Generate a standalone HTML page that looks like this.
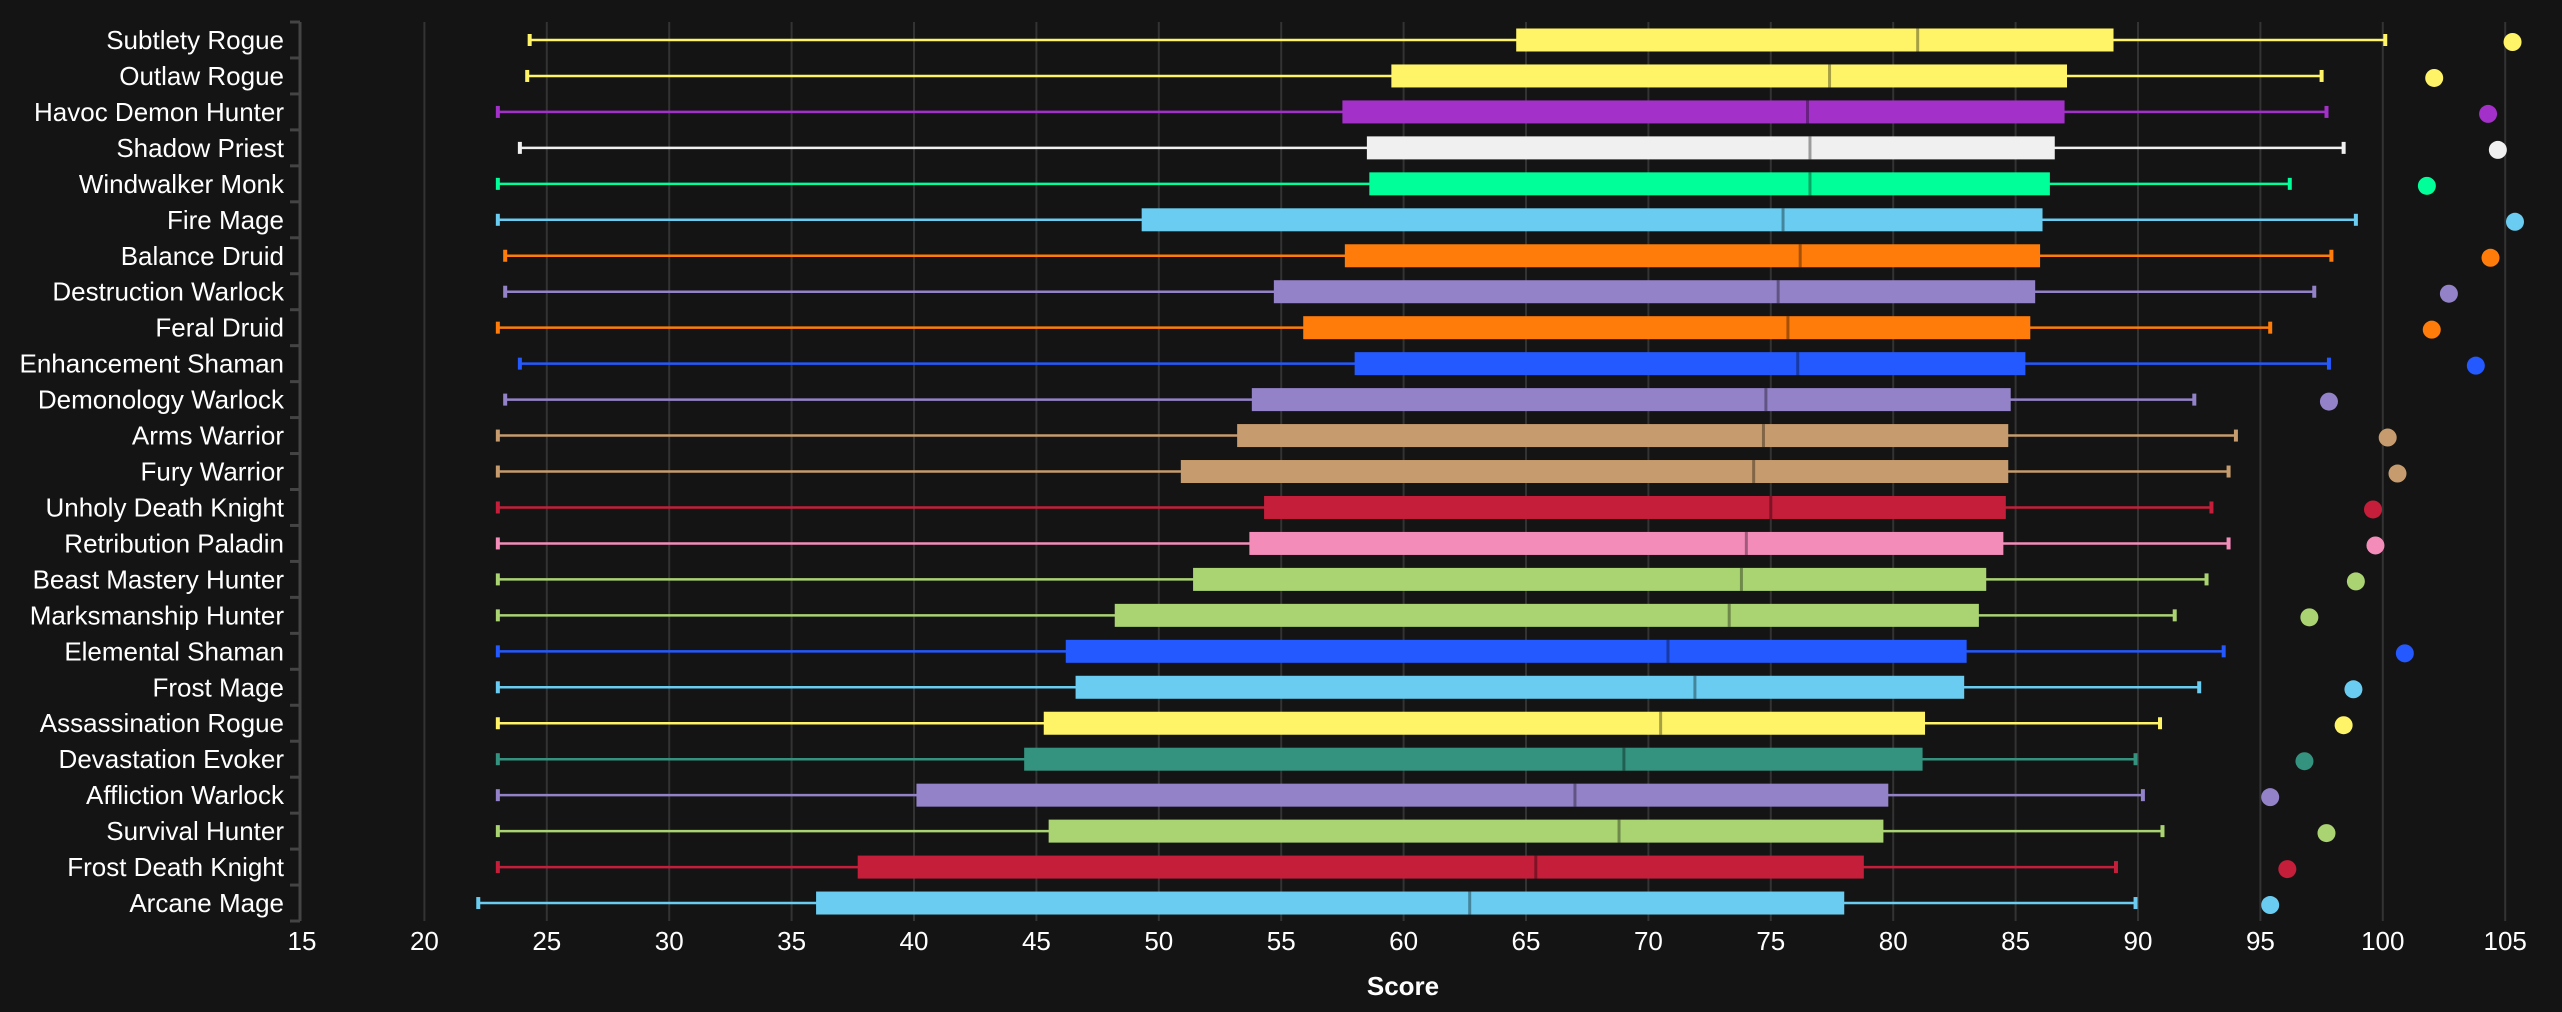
<!DOCTYPE html>
<html><head><meta charset="utf-8"><style>
html,body{margin:0;padding:0;background:#141414;}
svg{display:block;}
text{font-family:"Liberation Sans Narrow","Liberation Sans",sans-serif;fill:#fff;}
</style></head><body>
<svg id="chart" width="2562" height="1012" viewBox="0 0 2562 1012" xmlns="http://www.w3.org/2000/svg">
<rect width="2562" height="1012" fill="#141414"/>
<g id="grid"></g>
<g id="yaxis"></g>
<g id="xaxis"></g>
<g id="marks"></g>
<text x="1403" y="995" text-anchor="middle" font-size="26" font-weight="bold">Score</text>
</svg>
<script>
const categories = ["Subtlety Rogue","Outlaw Rogue","Havoc Demon Hunter","Shadow Priest","Windwalker Monk","Fire Mage","Balance Druid","Destruction Warlock","Feral Druid","Enhancement Shaman","Demonology Warlock","Arms Warrior","Fury Warrior","Unholy Death Knight","Retribution Paladin","Beast Mastery Hunter","Marksmanship Hunter","Elemental Shaman","Frost Mage","Assassination Rogue","Devastation Evoker","Affliction Warlock","Survival Hunter","Frost Death Knight","Arcane Mage"];
const mins = [24.3,24.2,23,23.9,23,23,23.3,23.3,23,23.9,23.3,23,23,23,23,23,23,23,23,23,23,23,23,23,22.2];
const q1s = [64.6,59.5,57.5,58.5,58.6,49.3,57.6,54.7,55.9,58,53.8,53.2,50.9,54.3,53.7,51.4,48.2,46.2,46.6,45.3,44.5,40.1,45.5,37.7,36];
const medians = [81,77.4,76.5,76.6,76.6,75.5,76.2,75.3,75.7,76.1,74.8,74.7,74.3,75,74,73.8,73.3,70.8,71.9,70.5,69,67,68.8,65.4,62.7];
const q3s = [89,87.1,87,86.6,86.4,86.1,86,85.8,85.6,85.4,84.8,84.7,84.7,84.6,84.5,83.8,83.5,83,82.9,81.3,81.2,79.8,79.6,78.8,78];
const maxs = [100.1,97.5,97.7,98.4,96.2,98.9,97.9,97.2,95.4,97.8,92.3,94,93.7,93,93.7,92.8,91.5,93.5,92.5,90.9,89.9,90.2,91,89.1,89.9];
const tops = [105.3,102.1,104.3,104.7,101.8,105.4,104.4,102.7,102,103.8,97.8,100.2,100.6,99.6,99.7,98.9,97,100.9,98.8,98.4,96.8,95.4,97.7,96.1,95.4];
const colors = ["#fff468","#fff468","#a330c9","#f0f0f0","#00ff98","#69ccf0","#ff7c0a","#9482c9","#ff7c0a","#2459ff","#9482c9","#c69b6d","#c69b6d","#c41e3a","#f48cba","#aad372","#aad372","#2459ff","#69ccf0","#fff468","#33937f","#9482c9","#aad372","#c41e3a","#69ccf0"];
const xTicks = [15,20,25,30,35,40,45,50,55,60,65,70,75,80,85,90,95,100,105];

const NS="http://www.w3.org/2000/svg";
const X0=302, PXU=24.48, Y0=40, ROW=35.96;
const x = v => X0 + (v-15)*PXU;
const y = i => Y0 + i*ROW;
function mk(tag, parent, attrs){const e=document.createElementNS(NS,tag);for(const k in attrs)e.setAttribute(k,attrs[k]);parent.appendChild(e);return e;}
const grid=document.getElementById('grid'), ya=document.getElementById('yaxis'), xa=document.getElementById('xaxis'), marks=document.getElementById('marks');
const plotTop=Y0-ROW/2, plotBot=y(categories.length-1)+ROW/2;
xTicks.forEach(t=>{
  if(t>15){const l=mk('line',grid,{x1:x(t),x2:x(t),y1:plotTop,y2:plotBot,stroke:'#333',"stroke-width":2});
  
  }
  const tx=mk('text',xa,{x:x(t),y:950,"text-anchor":"middle","font-size":26});
  tx.textContent=t;
  
  
});
const al=mk('line',ya,{x1:X0-2,x2:X0-2,y1:plotTop,y2:plotBot,stroke:'#444',"stroke-width":3});


for(let i=0;i<=categories.length;i++){
  const tk=mk('line',ya,{x1:X0-12,x2:X0-2,y1:plotTop+i*ROW,y2:plotTop+i*ROW,stroke:'#444',"stroke-width":3});
  
  
}
categories.forEach((c,i)=>{
  const cy=y(i), col=colors[i];
  const lb=mk('text',ya,{x:284,y:cy+9,"text-anchor":"end","font-size":26});
  lb.textContent=c;
  
  
  const g=mk('g',marks,{});
  
  
  mk('line',g,{x1:x(mins[i]),x2:x(maxs[i]),y1:cy,y2:cy,stroke:col,"stroke-width":2.5});
  mk('rect',g,{x:x(mins[i])-2,y:cy-6,width:4,height:12,fill:col});
  mk('rect',g,{x:x(maxs[i])-2,y:cy-6,width:4,height:12,fill:col});
  mk('rect',g,{x:x(q1s[i]),y:cy-11.5,width:x(q3s[i])-x(q1s[i]),height:23,fill:col});
  mk('line',g,{x1:x(medians[i]),x2:x(medians[i]),y1:cy-11.5,y2:cy+11.5,stroke:'rgba(0,0,0,0.35)',"stroke-width":3});
  const d=mk('circle',marks,{cx:x(tops[i]),cy:cy+2,r:9,fill:col});
  
  
});
</script>
</body></html>
